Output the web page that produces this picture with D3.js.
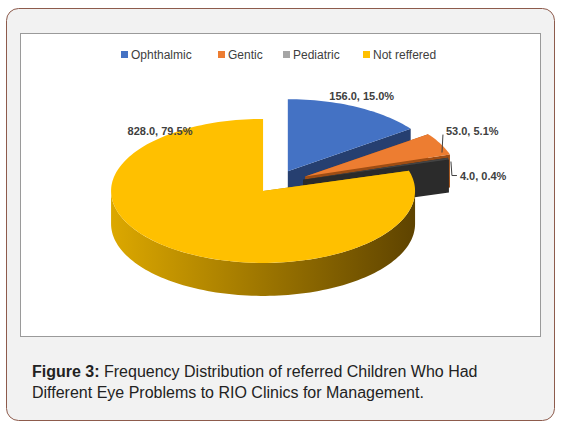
<!DOCTYPE html>
<html><head><meta charset="utf-8">
<script src="https://cdn.jsdelivr.net/npm/d3@7"></script>
<style>body{margin:0;background:#fff}</style>
</head><body>
<svg id="chart" width="565" height="429"></svg>
<script>
// chart data
var categories = ["Ophthalmic", "Gentic", "Pediatric", "Not reffered"];
var counts = [156, 53, 4, 828];
var percents = [15.0, 5.1, 0.4, 79.5];
var topColors = ["#4472c4", "#ed7d31", "#444444", "#ffc000"];
var legendColors = ["#4472c4", "#ed7d31", "#a5a5a5", "#ffc000"];
var sideColors = ["#263f70", "#9e4d14", "#2b2b2b", "#b58800"];
var explode = [0.2, 0.23, 0.2, 0.12];

var svg = d3.select("#chart");
var defs = svg.append("defs");
var grad = defs.append("linearGradient").attr("id", "ySide");
grad.append("stop").attr("offset", "0%").attr("stop-color", "#dca800");
grad.append("stop").attr("offset", "100%").attr("stop-color", "#5e4300");

// frame
svg.append("rect").attr("x", 6.5).attr("y", 8.5).attr("width", 548).attr("height", 412)
    .attr("rx", 12).attr("fill", "#f2f2f2").attr("stroke", "#8d5b4c");
svg.append("rect").attr("x", 20.5).attr("y", 33.5).attr("width", 520).attr("height", 303)
    .attr("fill", "#fff").attr("stroke", "#9a9a9a");

// legend
var legPos = {"Ophthalmic": 121, "Gentic": 218, "Pediatric": 283, "Not reffered": 363};
var leg = svg.append("g").selectAll("g").data(categories).enter().append("g")
    .attr("transform", function(d){ return "translate(" + legPos[d] + ",50)"; });
leg.append("rect").attr("width", 7).attr("height", 7).attr("y", 1)
    .attr("fill", function(d,i){ return legendColors[i]; });
leg.append("text").attr("x", 10).attr("y", 8.5).text(function(d){ return d; })
    .attr("font-family", "Liberation Sans, Arial").attr("font-size", 12).attr("fill", "#404040");

// 3d pie
var cx = 274, cy = 184, rx = 152, ry = 72, depth = 33;
var pie = d3.pie().sort(null).value(function(d){ return d; });
var arcs = pie(counts);

function pt(ox, oy, a, h) {
    return [ox + rx * Math.sin(a), oy - ry * Math.cos(a) + (h || 0)];
}
function rimPath(ox, oy, a0, a1, h) {
    var n = Math.max(2, Math.ceil((a1 - a0) / 0.03)), s = [];
    for (var k = 0; k <= n; k++) s.push(pt(ox, oy, a0 + (a1 - a0) * k / n, h));
    return s;
}
var line = d3.line();
var g = svg.append("g");

arcs.forEach(function(a, i) {
    var mid = (a.startAngle + a.endAngle) / 2;
    var ox = cx + explode[i] * rx * Math.sin(mid);
    var oy = cy - explode[i] * ry * Math.cos(mid);
    var side = i == 3 ? "url(#ySide)" : sideColors[i];
    [a.startAngle, a.endAngle].forEach(function(ang) {
        var p = pt(ox, oy, ang);
        g.append("path").attr("d", line([[ox, oy], p, [p[0], p[1] + depth], [ox, oy + depth]]) + "Z")
            .attr("fill", sideColors[i]);
    });
    var f0 = Math.max(a.startAngle, Math.PI / 2), f1 = Math.min(a.endAngle, 3 * Math.PI / 2);
    if (f1 > f0) {
        var top = rimPath(ox, oy, f0, f1, 0), bot = rimPath(ox, oy, f0, f1, depth).reverse();
        g.append("path").attr("d", line(top.concat(bot)) + "Z").attr("fill", side);
    }
    g.append("path").attr("d", line([[ox, oy]].concat(rimPath(ox, oy, a.startAngle, a.endAngle, 0))) + "Z")
        .attr("fill", topColors[i]);
    a.ox = ox; a.oy = oy; a.mid = mid;
});

// data labels
var lbl = svg.append("g").attr("font-family", "Liberation Sans, Arial").attr("font-size", 11)
    .attr("font-weight", "bold").attr("fill", "#404040");
arcs.forEach(function(a, i) {
    var t = counts[i].toFixed(1) + ", " + percents[i].toFixed(1) + "%";
    if (i == 0) {
        var p = pt(a.ox, a.oy, a.mid);
        lbl.append("text").attr("x", p[0] + 5).attr("y", p[1] - 7).attr("text-anchor", "middle").text(t);
    } else if (i == 3) {
        lbl.append("text").attr("x", 160).attr("y", 135).attr("text-anchor", "middle").text(t);
    } else {
        var e = pt(a.ox, a.oy, a.endAngle);
        var x0 = i == 1 ? e[0] - 8 : e[0] + 2, y0 = i == 1 ? e[1] - 2 : e[1] + 2;
        var y1 = i == 1 ? e[1] - 20 : e[1] + 16;
        svg.append("path").attr("d", line([[x0, y0], [x0 + 1, y1], [x0 + (i == 1 ? 1 : 6), y1]]))
            .attr("fill", "none").attr("stroke", "#404040").attr("stroke-width", 1);
        lbl.append("text").attr("x", x0 + (i == 1 ? 4 : 9)).attr("y", y1 + (i == 1 ? 0 : 4)).text(t);
    }
});

// caption
var cap = svg.append("text").attr("font-family", "Liberation Sans, Arial").attr("font-size", 16).attr("fill", "#222");
var c1 = cap.append("tspan").attr("x", 32).attr("y", 377);
c1.append("tspan").attr("font-weight", "bold").text("Figure 3:");
c1.append("tspan").text(" Frequency Distribution of referred Children Who Had");
cap.append("tspan").attr("x", 32).attr("y", 398).text("Different Eye Problems to RIO Clinics for Management.");
</script>
</body></html>
